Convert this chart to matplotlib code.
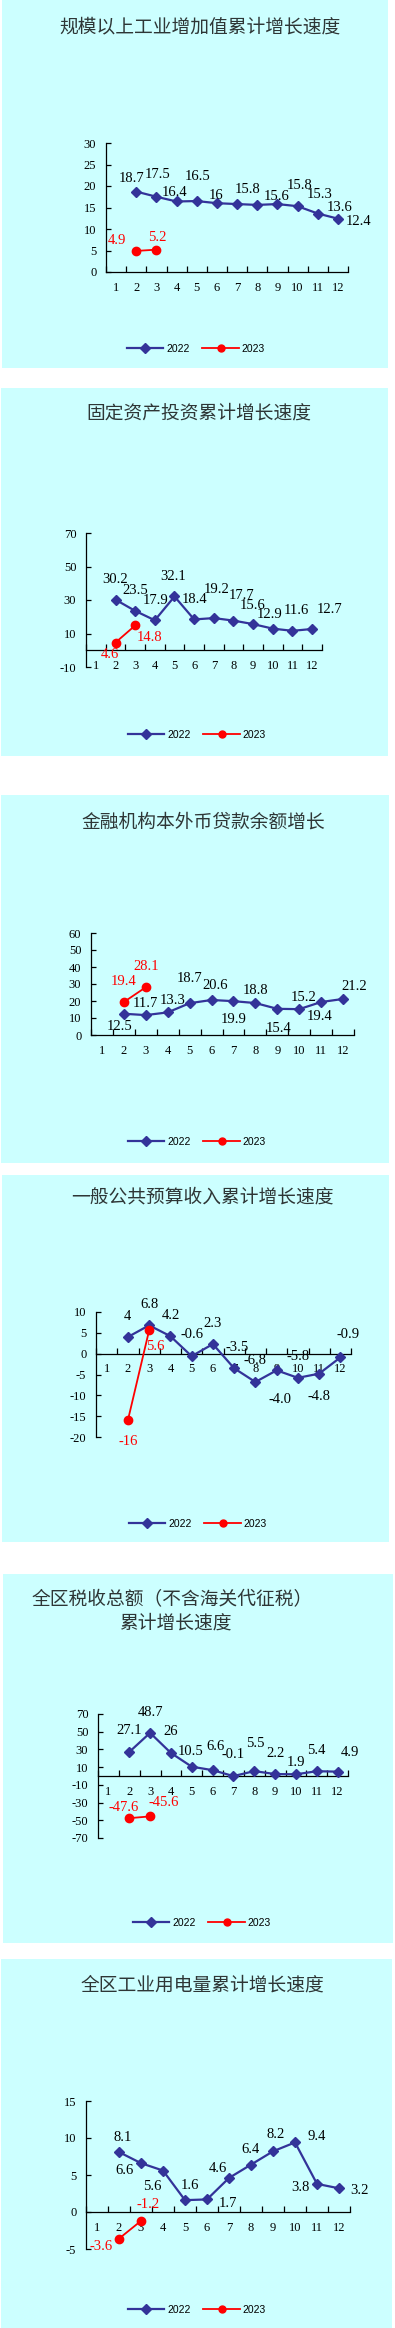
import matplotlib
matplotlib.use('Agg')
import matplotlib.pyplot as plt
from matplotlib.patches import Rectangle
from matplotlib.lines import Line2D

plt.rcParams['font.family'] = ['Liberation Serif', 'Noto Sans CJK SC']
plt.rcParams['axes.unicode_minus'] = False

# data
months = list(range(1, 13))
months_2022 = months[1:]
months_2023 = [2, 3]
series_names = ['2022', '2023']

titles = [
    '规模以上工业增加值累计增长速度',
    '固定资产投资累计增长速度',
    '金融机构本外币贷款余额增长',
    '一般公共预算收入累计增长速度',
    '全区税收总额（不含海关代征税）\n累计增长速度',
    '全区工业用电量累计增长速度',
]

ind_2022 = [18.7, 17.5, 16.4, 16.5, 16, 15.8, 15.6, 15.8, 15.3, 13.6, 12.4]
ind_2023 = [4.9, 5.2]
inv_2022 = [30.2, 23.5, 17.9, 32.1, 18.4, 19.2, 17.7, 15.6, 12.9, 11.6, 12.7]
inv_2023 = [4.6, 14.8]
loan_2022 = [12.5, 11.7, 13.3, 18.7, 20.6, 19.9, 18.8, 15.4, 15.2, 19.4, 21.2]
loan_2023 = [19.4, 28.1]
rev_2022 = [4, 6.8, 4.2, -0.6, 2.3, -3.5, -6.8, -4.0, -5.8, -4.8, -0.9]
rev_2023 = [-16, 5.6]
tax_2022 = [27.1, 48.7, 26, 10.5, 6.6, -0.1, 5.5, 2.2, 1.9, 5.4, 4.9]
tax_2023 = [-47.6, -45.6]
elec_2022 = [8.1, 6.6, 5.6, 1.6, 1.7, 4.6, 6.4, 8.2, 9.4, 3.8, 3.2]
elec_2023 = [-3.6, -1.2]

values_2022 = [ind_2022, inv_2022, loan_2022, rev_2022, tax_2022, elec_2022]
values_2023 = [ind_2023, inv_2023, loan_2023, rev_2023, tax_2023, elec_2023]

yticks = [
    [0, 5, 10, 15, 20, 25, 30],
    [-10, 10, 30, 50, 70],
    [0, 10, 20, 30, 40, 50, 60],
    [-20, -15, -10, -5, 0, 5, 10],
    [-70, -50, -30, -10, 10, 30, 50, 70],
    [-5, 0, 5, 10, 15],
]

# layout (pixels, measured from top-left of the image)
W, H = 395, 2328
boxes = [(2, 0, 388, 368), (1, 388, 388, 756), (1, 795, 389, 1163),
         (2, 1175, 389, 1542), (3, 1574, 393, 1943), (1, 1959, 392, 2328)]
axes_px = [(106, 143, 348, 272), (86, 533, 322, 667), (91, 933, 354, 1035),
           (96, 1312, 351, 1437), (98, 1714, 348, 1838), (86, 2101, 350, 2249)]
title_px = [(200, 27), (199, 413), (203, 822), (202, 1197), (173, 1611), (202, 1985)]
legend_px = [(196, 349), (197, 735), (197, 1142), (198, 1524), (202, 1923), (197, 2310)]

# data label offsets in pixels (x right, y up)
off_2022 = [
    [(-5, 13), (1, 22), (-2, 9), (1, 25), (-1, 8), (11, 15), (19, 8), (22, 19), (22, 12), (22, 6), (21, -3)],
    [(0, 20), (0, 20), (1, 20), (-1, 20), (0, 20), (3, 29), (8, 25), (-1, 19), (-3, 14), (4, 20), (17, 19)],
    [(-4, -13), (0, 12), (5, 12), (0, 25), (4, 14), (0, -18), (0, 13), (1, -20), (4, 12), (-2, -14), (11, 12)],
    [(0, 21), (0, 21), (0, 21), (0, 22), (0, 21), (3, 21), (0, 21), (3, -29), (0, 21), (0, -23), (8, 23)],
    [(0, 21), (0, 20), (0, 21), (-1, 15), (3, 24), (0, 22), (1, 28), (0, 21), (0, 12), (0, 21), (12, 19)],
    [(4, 15), (-16, -7), (-11, -16), (5, 15), (21, -4), (-11, 9), (-1, 15), (3, 17), (22, 6), (-17, -4), (20, -2)],
]
off_2023 = [
    [(-19, 10), (1, 12)],
    [(-6, -12), (14, -12)],
    [(0, 21), (0, 21)],
    [(0, -21), (6, -16)],
    [(-6, 11), (14, 14)],
    [(-18, -8), (7, 16)],
]

blue = '#333399'
red = '#FF0000'
cyan = '#CCFFFF'
title_color = '#2E3636'


def fx(x):
    return x / W


def fy(y):
    return 1 - y / H


fig = plt.figure(figsize=(W / 100, H / 100), dpi=100)
fig.patch.set_facecolor('white')

for i in range(6):
    l, t, r, b = boxes[i]
    fig.add_artist(Rectangle((fx(l), fy(b)), fx(r - l), (b - t) / H,
                             transform=fig.transFigure, facecolor=cyan,
                             edgecolor='none', zorder=-10))

    al, at, ar, ab = axes_px[i]
    ax = fig.add_axes([fx(al), fy(ab), fx(ar - al), (ab - at) / H])
    ax.set_facecolor('none')

    y22 = values_2022[i]
    y23 = values_2023[i]
    ax.plot(months_2022, y22, color=blue, lw=1.6, marker='D', ms=5.3,
            mec=blue, mfc=blue, zorder=3)
    ax.plot(months_2023, y23, color=red, lw=1.3, marker='o', ms=6,
            mec=red, mfc=red, zorder=4)

    for m, v, (dx, dy) in zip(months_2022, y22, off_2022[i]):
        ax.annotate(f'{v}', (m, v), xytext=(dx, dy), textcoords='offset pixels',
                    ha='center', va='center', fontsize=10.5, color='black',
                    annotation_clip=False, zorder=5)
    for m, v, (dx, dy) in zip(months_2023, y23, off_2023[i]):
        ax.annotate(f'{v}', (m, v), xytext=(dx, dy), textcoords='offset pixels',
                    ha='center', va='center', fontsize=10.5, color=red,
                    annotation_clip=False, zorder=5)

    ax.set_xlim(0.5, 12.5)
    ax.set_ylim(yticks[i][0], yticks[i][-1])
    ax.set_yticks(yticks[i])
    ax.set_xticks(months)
    ax.set_xticks([m + 0.5 for m in range(0, 13)], minor=True)
    ax.set_xticklabels([str(m) for m in months])

    for s in ['top', 'right']:
        ax.spines[s].set_visible(False)
    ax.spines['bottom'].set_position(('data', 0))
    for s in ['left', 'bottom']:
        ax.spines[s].set_linewidth(0.9)
        ax.spines[s].set_color('black')

    ax.tick_params(axis='y', direction='in', length=3.8, width=0.9, pad=7,
                   labelsize=9)
    ax.tick_params(axis='x', which='major', length=0, pad=7, labelsize=9)
    ax.tick_params(axis='x', which='minor', direction='in', length=4, width=0.9)

    tx, ty = title_px[i]
    if '\n' in titles[i]:
        line1, line2 = titles[i].split('\n')
        fig.text(fx(172), fy(1600), line1, ha='center', va='center',
                 fontsize=13.5, color=title_color, family='Noto Sans CJK SC')
        fig.text(fx(175), fy(1623), line2, ha='center', va='center',
                 fontsize=13.5, color=title_color, family='Noto Sans CJK SC')
    else:
        fig.text(fx(tx), fy(ty), titles[i], ha='center', va='center',
                 fontsize=13.5, color=title_color, family='Noto Sans CJK SC')

    handles = [Line2D([], [], color=blue, lw=1.6, marker='D', ms=5, mfc=blue, mec=blue),
               Line2D([], [], color=red, lw=1.3, marker='o', ms=5, mfc=red, mec=red)]
    lx, ly = legend_px[i]
    ax.legend(handles, series_names, loc='center', ncol=2,
              bbox_to_anchor=(fx(lx), fy(ly)), bbox_transform=fig.transFigure,
              frameon=False, handlelength=3.5, handletextpad=0.3,
              columnspacing=1.2, prop={'family': 'Liberation Sans', 'size': 7.5})

fig.savefig('out.png', dpi=100)
